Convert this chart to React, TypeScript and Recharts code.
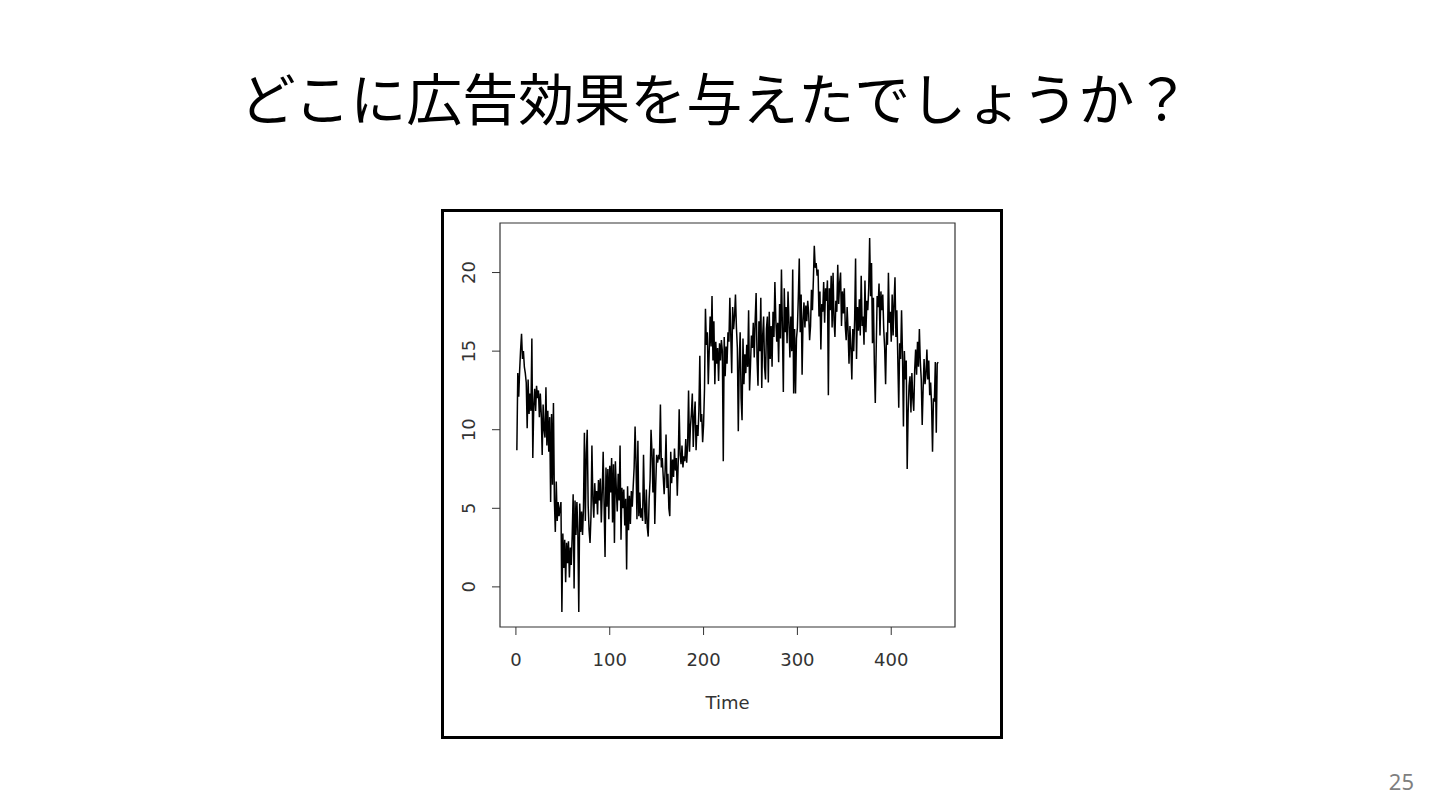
import React from 'react';
import { LineChart, Line, XAxis, YAxis, ReferenceArea } from 'recharts';

const TITLE = 'どこに広告効果を与えたでしょうか？';
const PAGE_NUMBER = '25';
const X_LABEL = 'Time';
const X_TICKS = [0, 100, 200, 300, 400];
const Y_TICKS = [0, 5, 10, 15, 20];
const START_TIME = 1;

const SERIES_VALUES = [
  8.7, 13.6, 12.1, 13.8, 15.1, 16.1, 14.5, 15.0, 14.0, 13.6,
  13.0, 10.1, 13.2, 11.0, 12.3, 11.2, 15.8, 8.2, 11.5, 12.6,
  11.2, 12.8, 12.0, 12.5, 10.8, 12.3, 11.0, 8.4, 11.6, 10.0,
  9.5, 12.7, 9.0, 11.2, 8.6, 10.8, 5.4, 11.0, 6.5, 11.7,
  5.5, 3.5, 6.7, 4.2, 5.4, 4.5, 5.0, 5.4, -1.6, 3.4,
  1.2, 3.0, 0.3, 2.8, 1.5, 2.9, 0.6, 2.5, 1.4, 3.3,
  5.9, -0.1, 5.5, 3.3, 5.4, 3.5, -1.6, 5.3, 3.5, 4.8,
  3.3, 5.0, 9.8, 4.2, 8.5, 10.0, 5.2, 3.6, 2.8, 4.5,
  9.0, 5.6, 4.4, 6.6, 5.3, 6.1, 4.6, 6.8, 5.5, 6.9,
  4.1, 6.0, 8.6, 5.2, 1.9, 7.6, 5.1, 7.5, 4.3, 7.7,
  6.0, 8.2, 4.1, 7.8, 2.8, 8.0, 6.2, 4.8, 7.2, 5.5,
  9.0, 3.0, 6.3, 5.0, 6.2, 3.9, 5.6, 1.1, 6.4, 3.6,
  5.8, 4.0, 6.1, 5.1, 6.4, 7.6, 10.2, 7.9, 4.3, 9.3,
  4.5, 6.0, 4.4, 5.0, 4.2, 8.4, 5.2, 4.0, 6.2, 3.8,
  3.2, 5.6, 6.8, 10.0, 8.6, 6.0, 8.8, 4.0, 6.5, 8.4,
  7.9, 8.3, 8.2, 11.6, 7.6, 8.2, 7.0, 5.9, 7.4, 9.7,
  6.3, 7.2, 5.0, 4.5, 8.6, 6.6, 8.1, 7.0, 8.8, 7.4,
  8.2, 5.8, 8.0, 11.3, 8.4, 7.8, 9.0, 7.6, 8.3, 8.0,
  9.4, 7.9, 9.0, 12.5, 8.6, 10.2, 11.0, 12.3, 8.9, 10.8,
  11.8, 8.7, 10.3, 9.6, 11.2, 14.7, 10.5, 11.0, 9.2, 10.3,
  12.6, 17.7, 15.4, 16.2, 12.9, 15.0, 17.2, 15.3, 18.5, 14.4,
  16.9, 12.9, 15.6, 14.2, 15.2, 13.1, 15.5, 14.4, 15.7, 15.0,
  8.0, 15.9, 13.4, 15.3, 14.2, 16.2, 15.6, 18.4, 16.0, 13.6,
  17.8, 16.4, 17.2, 18.6, 16.5, 15.2, 9.9, 14.3, 16.2, 12.0,
  10.6, 15.8, 12.9, 14.8, 13.6, 15.4, 14.0, 17.6, 12.5, 14.1,
  16.0, 15.2, 16.8, 14.6, 17.0, 18.7, 14.5, 12.8, 16.9, 15.0,
  18.4, 12.65, 16.0, 17.2, 14.0, 13.2, 16.4, 17.2, 13.0, 17.5,
  14.5, 16.6, 14.0, 17.5, 15.9, 19.4, 17.0, 15.6, 16.8, 14.3,
  18.0, 15.8, 20.2, 16.5, 12.4, 19.0, 16.2, 17.8, 15.5, 18.8,
  16.8, 14.6, 17.2, 15.0, 20.2, 12.3, 16.4, 12.3, 15.8, 16.5,
  18.5, 20.9, 16.2, 18.6, 13.5, 17.0, 18.1, 16.5, 17.9, 16.9,
  18.2, 17.4, 15.7, 16.6, 18.9, 17.6, 19.5, 21.7, 20.3, 20.6,
  19.8, 20.2, 17.2, 18.8, 15.1, 18.0, 17.5, 19.4, 16.8, 19.0,
  18.2, 19.5, 12.2, 19.0, 17.6, 19.8, 16.5, 19.98, 17.0, 15.9,
  18.2, 17.5, 20.5, 18.0, 19.3, 20.0, 16.6, 18.8, 17.4, 19.0,
  16.6, 15.7, 17.8, 16.3, 14.2, 16.6, 15.2, 13.2, 16.4, 15.0,
  17.0, 20.9, 14.5, 17.8, 16.3, 18.3, 16.0, 19.8, 16.6, 17.2,
  15.4, 19.5, 16.2, 18.2, 17.6, 19.0, 22.2, 18.5, 20.6, 15.5,
  18.4, 14.2, 11.7, 15.2, 18.5, 17.8, 19.3, 16.0, 18.8, 17.6,
  18.6, 16.4, 15.2, 12.9, 16.2, 15.4, 19.98, 16.8, 17.5, 15.6,
  18.6, 16.0, 18.1, 19.7, 15.9, 17.6, 14.5, 11.4, 15.5, 14.5,
  17.6, 14.8, 10.2, 15.0, 13.2, 14.4, 7.5, 11.1, 12.8, 13.4,
  11.1, 13.6, 12.0, 11.2, 13.8, 15.1, 13.5, 15.6, 14.0, 16.4,
  14.3, 13.2, 10.3, 12.6, 14.5, 12.9, 13.5, 15.1, 13.2, 14.4,
  12.2, 13.0, 11.6, 8.6, 12.0, 11.8, 14.3, 9.8, 14.2, 14.3,
];

const data = SERIES_VALUES.map((v, i) => ({ t: START_TIME + i, v }));

// R-style 4% axis extension
const tMin = START_TIME;
const tMax = START_TIME + SERIES_VALUES.length - 1;
const vMin = Math.min(...SERIES_VALUES);
const vMax = Math.max(...SERIES_VALUES);
const xPad = (tMax - tMin) * 0.04;
const yPad = (vMax - vMin) * 0.04;
const X_DOMAIN: [number, number] = [tMin - xPad, tMax + xPad];
const Y_DOMAIN: [number, number] = [vMin - yPad, vMax + yPad];

const AXIS_FONT = '"DejaVu Sans", "Liberation Sans", sans-serif';
const AXIS_COLOR = '#333333';

const RotatedYTick = (props: any) => {
  const { x, y, payload } = props;
  return (
    <text
      x={x}
      y={y}
      transform={`rotate(-90 ${x} ${y})`}
      textAnchor="middle"
      fontFamily={AXIS_FONT}
      fontSize={18}
      fill={AXIS_COLOR}
    >
      {payload.value}
    </text>
  );
};

export default function App() {
  return (
    <div
      style={{
        position: 'absolute',
        left: 0,
        top: 0,
        width: 1440,
        height: 810,
        background: '#ffffff',
        overflow: 'hidden',
      }}
    >
      <div
        style={{
          position: 'absolute',
          left: 0,
          top: 68,
          width: 1430,
          textAlign: 'center',
          fontFamily: '"Noto Sans CJK JP", sans-serif',
          fontSize: 56,
          lineHeight: 1,
          color: '#000000',
          whiteSpace: 'nowrap',
        }}
      >
        {TITLE}
      </div>

      <div
        style={{
          position: 'absolute',
          left: 441,
          top: 209,
          width: 562,
          height: 530,
          boxSizing: 'border-box',
          border: '3px solid #000000',
        }}
      />

      <div style={{ position: 'absolute', left: 0, top: 0 }}>
        <LineChart
          width={1440}
          height={810}
          data={data}
          margin={{ top: 223, right: 485, bottom: 83, left: 440 }}
        >
          <XAxis
            dataKey="t"
            type="number"
            domain={X_DOMAIN}
            allowDataOverflow
            ticks={X_TICKS}
            axisLine={false}
            tickLine={{ stroke: AXIS_COLOR, strokeWidth: 1 }}
            tickSize={8}
            tickMargin={18}
            height={100}
            tick={{ fontFamily: AXIS_FONT, fontSize: 18, fill: AXIS_COLOR }}
            label={{
              value: X_LABEL,
              position: 'insideBottom',
              offset: 18,
              fontFamily: AXIS_FONT,
              fontSize: 18,
              fill: AXIS_COLOR,
            }}
          />
          <YAxis
            type="number"
            domain={Y_DOMAIN}
            allowDataOverflow
            ticks={Y_TICKS}
            axisLine={false}
            tickLine={{ stroke: AXIS_COLOR, strokeWidth: 1 }}
            tickSize={8}
            tickMargin={17}
            width={60}
            tick={<RotatedYTick />}
          />
          <ReferenceArea
            x1={X_DOMAIN[0]}
            x2={X_DOMAIN[1]}
            y1={Y_DOMAIN[0]}
            y2={Y_DOMAIN[1]}
            fill="none"
            stroke={AXIS_COLOR}
            strokeWidth={1.2}
            ifOverflow="visible"
          />
          <Line
            type="linear"
            dataKey="v"
            stroke="#000000"
            strokeWidth={1.5}
            dot={false}
            activeDot={false}
            isAnimationActive={false}
          />
        </LineChart>
      </div>

      <div
        style={{
          position: 'absolute',
          right: 26,
          top: 768,
          fontFamily: '"Noto Sans", sans-serif',
          fontSize: 22,
          lineHeight: 1.2,
          color: '#7f7f7f',
        }}
      >
        {PAGE_NUMBER}
      </div>
    </div>
  );
}
